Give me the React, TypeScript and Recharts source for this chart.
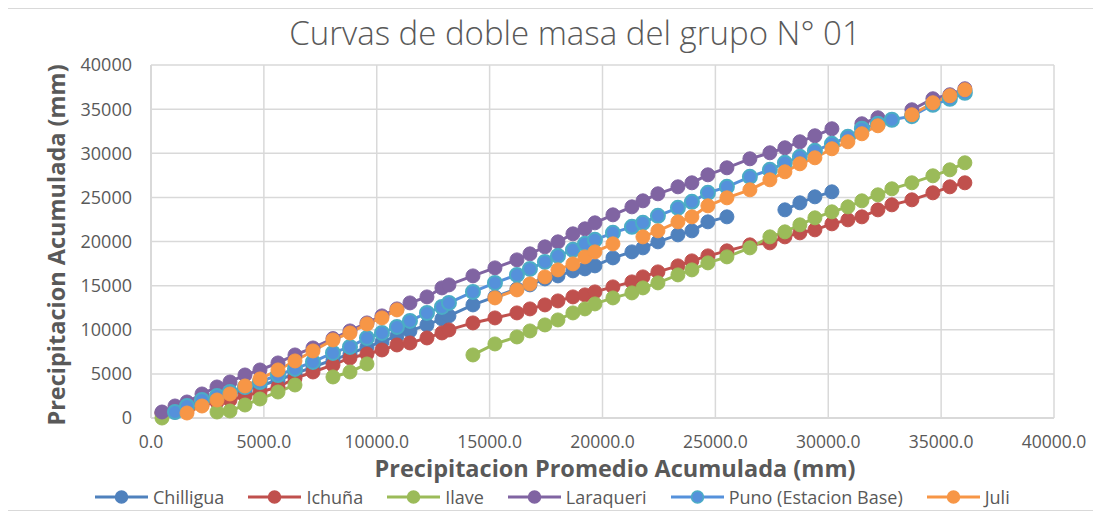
import React from 'react'
import { LineChart, Line, XAxis, YAxis, CartesianGrid } from 'recharts'

// precipitacion promedio acumulada del grupo (mm)
const promedioAcum = [
  487, 1063, 1594, 2259, 2923, 3499, 4163, 4827, 5625, 6378, 7175, 8061, 8814, 9567, 10231, 10895,
  11471, 12224, 12888, 13198, 14261, 15236, 16210, 16786, 17450, 18026, 18690, 19222, 19665, 20462,
  21303, 21791, 22455, 23341, 23960, 24669, 25511, 26529, 27415, 28080, 28744, 29409, 30162, 30870,
  31490, 32199, 32819, 33705, 34635, 35387, 36052,
]

const chilligua = [
  567, 680, 1134, 1814, 2155, 2608, 3175, 3629, 4309, 4990, 5783, 6577, 7258, 8051, 8618, 9299,
  9866, 10546, 11227, 11567, 12814, 13721, 14628, 15082, 15763, 16103, 16670, 16897, 17237, 18144,
  18824, 19278, 19958, 20752, 21206, 22226, 22793, null, null, 23587, 24381, 25061, 25628,
  null, null, null, null, null, null, null, null,
]

const ichuna = [
  567, 680, 907, 1474, 1814, 2041, 2495, 2948, 3515, 4500, 5216, 6010, 6804, 7258, 7711, 8278,
  8505, 9072, 9639, 9979, 10773, 11340, 11907, 12361, 12814, 13268, 13721, 13948, 14288, 14855,
  15422, 15989, 16556, 17237, 17804, 18371, 18938, 19618, 19845, 20525, 20979, 21319, 22000, 22453,
  22793, 23587, 24154, 24721, 25515, 26195, 26649,
]

const ilave = [
  0, null, null, null, 680, 794, 1474, 2155, 2948, 3742, null, 4650, 5216, 6124,
  null, null, null, null, null, null,
  7144, 8392, 9185, 9866, 10546, 11113, 11907, 12361, 12928, 13608, 14175, 14742, 15309, 16216,
  16783, 17577, 18257, 19278, 20525, 21092, 21886, 22680, 23360, 23927, 24608, 25288, 25969, 26649,
  27443, 28123, 28917,
]

const laraqueri = [
  680, 1360, 1814, 2722, 3515, 4082, 4876, 5443, 6237, 7144, 7938, 9000, 9866, 10773, 11567, 12360,
  13041, 13721, 14742, 15082, 16103, 17010, 17917, 18598, 19391, 19958, 20866, 21433, 22113, 23020,
  23927, 24608, 25402, 26195, 26649, 27556, 28350, 29371, 30051, 30618, 31298, 31979, 32773, null,
  33340, 34020, null, 34927, 36175, 36628, 37309,
]

const puno = [
  null, 680, 1360, 2041, 2495, 2948, 3515, 4082, 4876, 5557, 6350, 7371, 8051, 9072, 9639, 10319,
  11000, 11907, 12587, 13041, 14288, 15309, 16216, 16897, 17690, 18371, 19051, 19732, 20185, 20979,
  21659, 22113, 22907, 23814, 24494, 25515, 26195, 27329, 28123, 28917, 29597, 30278, 31072, 31865,
  32773, 33340, 33793, 34200, 35494, 36175, 36855,
]

const juli = [
  null, null, 567, 1361, 2041, 2722, 3629, 4423, 5443, 6464, 7598, 8845, 9639, 10660, 11340, 12247,
  null, null, null, null, null,
  13608, 14515, 15196, 15989, 16783, 17464, 18257, 18824, 19732, null, 20525, 21206, 22226, 22793,
  24041, 24948, 25855, 26989, 27896, 28804, 29484, 30505, 31298, 32206, 33113, null, 34360, 35721,
  36515, 37195,
]

const xTicks = [0, 5000, 10000, 15000, 20000, 25000, 30000, 35000, 40000]
const yTicks = [0, 5000, 10000, 15000, 20000, 25000, 30000, 35000, 40000]

const series = [
  { key: 'chilligua', name: 'Chilligua', values: chilligua, color: '#4F81BD', dotStroke: '#4F81BD' },
  { key: 'ichuna', name: 'Ichuña', values: ichuna, color: '#C0504D', dotStroke: '#C0504D' },
  { key: 'ilave', name: 'Ilave', values: ilave, color: '#9BBB59', dotStroke: '#9BBB59' },
  { key: 'laraqueri', name: 'Laraqueri', values: laraqueri, color: '#8064A2', dotStroke: '#8064A2' },
  { key: 'puno', name: 'Puno (Estacion Base)', values: puno, color: '#5591DB', dotStroke: '#4BACC6' },
  { key: 'juli', name: 'Juli', values: juli, color: '#F79646', dotStroke: '#F79646' },
]

const data = promedioAcum.map((x, i) => {
  const row: Record<string, number | null> = { x }
  series.forEach((s) => {
    row[s.key] = s.values[i]
  })
  return row
})

const FONT = '"Open Sans", sans-serif'
const GREY = '#595959'

export default function App() {
  return (
    <div
      style={{
        position: 'relative',
        width: 1091,
        height: 501,
        marginLeft: -4,
        border: '1px solid #d9d9d9',
        background: '#fff',
        fontFamily: FONT,
      }}
    >
      <LineChart
        width={1091}
        height={501}
        data={data}
        margin={{ top: 56, right: 42, left: 0, bottom: 52 }}
      >
        <CartesianGrid stroke="#d9d9d9" strokeWidth={1.5} />
        <XAxis
          dataKey="x"
          type="number"
          domain={[0, 40000]}
          ticks={xTicks}
          height={40}
          tickFormatter={(v: number) => v.toFixed(1)}
          tick={{ fill: GREY, fontSize: 17.5, fontFamily: FONT }}
          tickSize={0}
          tickMargin={18}
          axisLine={{ stroke: '#d9d9d9', strokeWidth: 2 }}
        />
        <YAxis
          type="number"
          domain={[0, 40000]}
          ticks={yTicks}
          width={146}
          tick={{ fill: GREY, fontSize: 18, fontFamily: FONT }}
          tickSize={0}
          tickMargin={19}
          axisLine={{ stroke: '#d9d9d9', strokeWidth: 2 }}
        />
        {series.map((s) => (
          <Line
            key={s.key}
            dataKey={s.key}
            name={s.name}
            type="linear"
            stroke={s.color}
            strokeWidth={3}
            dot={{ r: 7, fill: s.color, stroke: s.dotStroke, strokeWidth: s.key === 'puno' ? 2 : 1 }}
            activeDot={false}
            isAnimationActive={false}
          />
        ))}
      </LineChart>

      <svg
        width={1091}
        height={501}
        style={{ position: 'absolute', left: 0, top: 0, pointerEvents: 'none' }}
      >
        <text x={570} y={36} textAnchor="middle" fontSize={33} fontWeight={300} fill={GREY} fontFamily={FONT}>
          Curvas de doble masa del grupo N° 01
        </text>
        <text x={610} y={468} textAnchor="middle" fontSize={23.5} fontWeight={700} fill={GREY} fontFamily={FONT}>
          Precipitacion Promedio Acumulada (mm)
        </text>
        <text
          x={0}
          y={0}
          transform="translate(60 236) rotate(-90)"
          textAnchor="middle"
          fontSize={23.5}
          fontWeight={700}
          fill={GREY}
          fontFamily={FONT}
        >
          Precipitacion Acumulada (mm)
        </text>
      </svg>

      <div
        style={{
          position: 'absolute',
          left: 90,
          top: 477,
          display: 'flex',
          alignItems: 'center',
          gap: 24,
          fontSize: 18,
          color: GREY,
          lineHeight: '22px',
        }}
      >
        {series.map((s) => (
          <div key={s.key} style={{ display: 'flex', alignItems: 'center', gap: 5 }}>
            <svg width={53} height={16}>
              <line x1={0} y1={8} x2={53} y2={8} stroke={s.color} strokeWidth={3} />
              <circle cx={26.5} cy={8} r={6} fill={s.color} stroke={s.dotStroke} strokeWidth={1.5} />
            </svg>
            <span>{s.name}</span>
          </div>
        ))}
      </div>
    </div>
  )
}
